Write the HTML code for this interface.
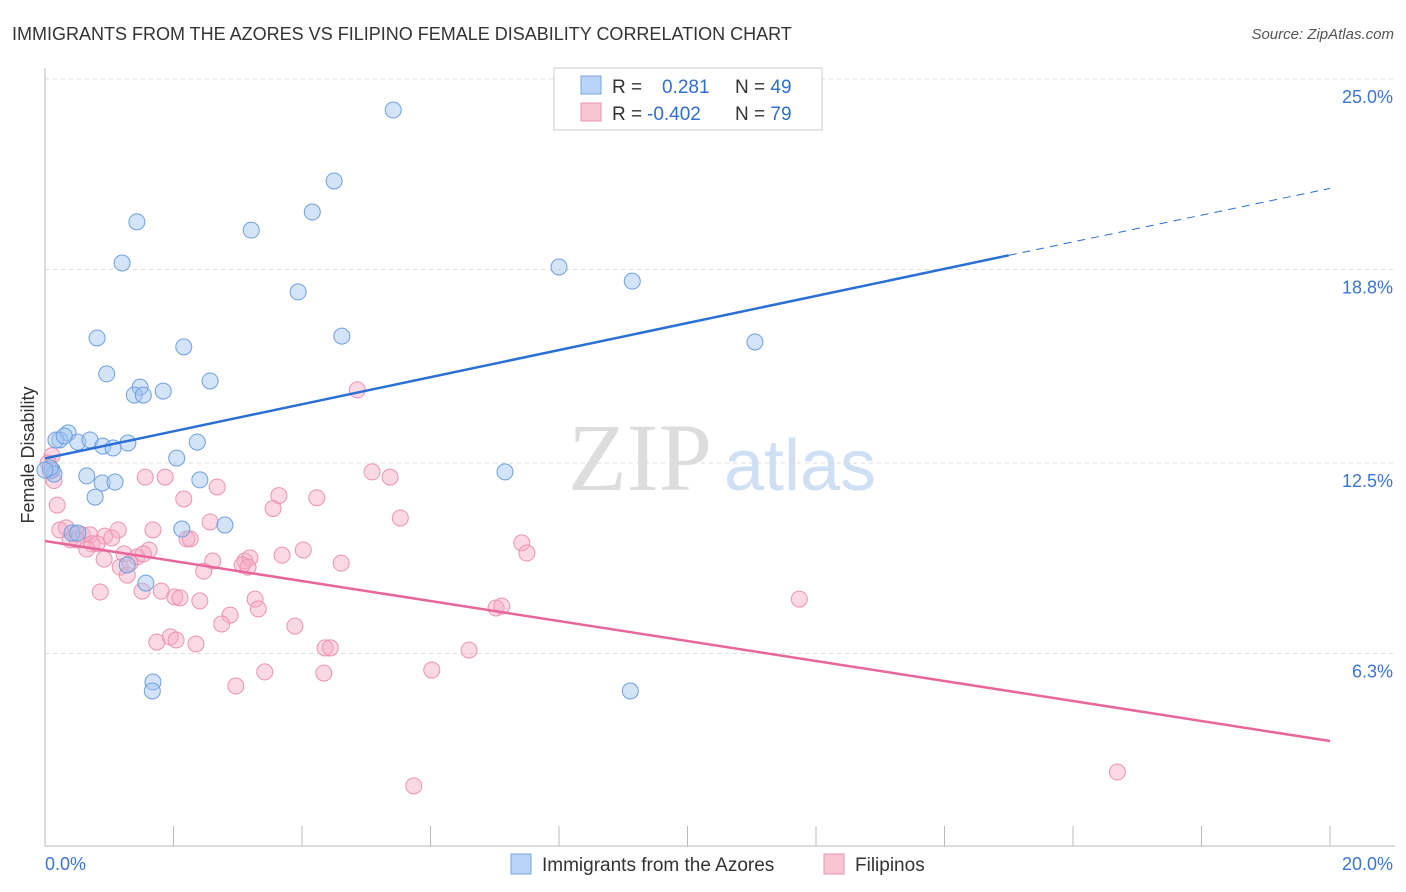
<!DOCTYPE html>
<html><head><meta charset="utf-8"><style>
body{margin:0;background:#fff;font-family:"Liberation Sans",sans-serif;}
#c{position:absolute;left:0;top:0;width:1406px;height:892px;}
</style></head><body>
<svg id="c" width="1406" height="892" xmlns="http://www.w3.org/2000/svg">
<text x="12" y="40" font-size="18" fill="#333">IMMIGRANTS FROM THE AZORES VS FILIPINO FEMALE DISABILITY CORRELATION CHART</text>
<text x="1394" y="39" font-size="15" fill="#555" text-anchor="end" font-style="italic">Source: ZipAtlas.com</text>
<text x="34" y="455" font-size="18" fill="#333" text-anchor="middle" transform="rotate(-90 34 455)">Female Disability</text>
<text x="640" y="490" font-size="96" fill="#ddd" font-family="Liberation Serif,serif" text-anchor="middle">ZIP</text>
<text x="800" y="490" font-size="72" fill="#cfe0f5" text-anchor="middle">atlas</text>
<g id="grid"></g><g id="axes"></g><g id="pts"></g><g id="lines"></g>
<g>
<rect x="554" y="68" width="268" height="62" fill="#fff" stroke="#ccc"/>
<rect x="581" y="76" width="20" height="18" fill="#b8d3f5" stroke="#7aa7e0"/>
<rect x="581" y="103" width="20" height="18" fill="#f9c4d4" stroke="#ec93b0"/>
<text x="612" y="93" font-size="19" fill="#333">R = <tspan fill="#2f6fd1" x="662">0.281</tspan><tspan x="735" fill="#333">N = </tspan><tspan fill="#2f6fd1">49</tspan></text>
<text x="612" y="120" font-size="19" fill="#333">R = <tspan fill="#2f6fd1" x="647">-0.402</tspan><tspan x="735" fill="#333">N = </tspan><tspan fill="#2f6fd1">79</tspan></text>
</g>
<g>
<rect x="511" y="854" width="20" height="20" fill="#b8d3f5" stroke="#7aa7e0"/>
<text x="542" y="871" font-size="19" fill="#333">Immigrants from the Azores</text>
<rect x="824" y="854" width="20" height="20" fill="#f9c4d4" stroke="#ec93b0"/>
<text x="855" y="871" font-size="19" fill="#333">Filipinos</text>
</g>
</svg>
<script>
const yTicks=[25.0,18.8,12.5,6.3];
const yTickLabels=["25.0%","18.8%","12.5%","6.3%"];
const xTickLabels=["0.0%","20.0%"];
const blueX=[5.42,4.5,4.16,1.43,3.21,1.2,8.0,9.14,3.94,0.81,4.62,2.16,11.05,0.96,1.48,1.39,1.53,1.84,2.57,0.36,0.23,0.51,0.7,0.9,1.06,1.29,2.37,2.05,0.11,0.14,0.65,0.89,1.09,2.41,7.16,0.78,2.13,2.8,0.42,0.51,1.28,1.57,1.68,1.67,9.11,0.08,0.17,0.3,0.0];
const blueY=[23.99,21.68,20.67,20.35,20.08,19.01,18.88,18.42,18.07,16.57,16.63,16.28,16.44,15.4,14.97,14.71,14.71,14.84,15.17,13.48,13.25,13.18,13.25,13.05,12.99,13.15,13.18,12.66,12.27,12.14,12.08,11.85,11.88,11.95,12.21,11.39,10.35,10.48,10.22,10.22,9.18,8.59,5.37,5.08,5.08,12.34,13.25,13.38,12.27];
const pinkX=[4.86,5.09,5.37,5.53,4.23,3.64,3.55,2.16,1.56,1.87,2.68,2.57,1.68,1.14,0.33,0.47,0.58,0.7,0.93,1.04,2.21,2.26,7.42,7.5,1.62,0.39,0.5,0.73,0.81,1.23,1.43,0.65,0.92,1.17,1.28,1.32,1.53,2.61,3.11,3.19,3.07,3.16,3.69,4.02,4.61,2.47,0.86,1.51,1.81,2.02,2.1,2.41,3.27,3.32,2.88,2.75,7.02,7.11,11.74,3.89,1.74,1.95,2.04,2.35,4.36,4.44,6.6,6.02,3.42,4.34,2.97,5.74,16.69,0.19,0.14,0.11,0.08,0.23,0.05];
const pinkY=[14.88,12.21,12.04,10.71,11.37,11.44,11.02,11.33,12.04,12.04,11.72,10.58,10.32,10.32,10.39,10.19,10.16,10.16,10.12,10.06,10.03,10.03,9.9,9.57,9.67,10.0,9.99,9.87,9.87,9.54,9.44,9.7,9.37,9.11,8.85,9.24,9.54,9.31,9.31,9.41,9.18,9.11,9.5,9.67,9.24,8.98,8.3,8.33,8.33,8.14,8.11,8.01,8.07,7.75,7.55,7.26,7.78,7.84,8.07,7.19,6.67,6.84,6.74,6.61,6.48,6.48,6.41,5.76,5.7,5.66,5.24,1.99,2.44,11.13,11.93,12.74,12.24,10.32,12.5];
const blueFit=[12.65,19.26,21.44];
const pinkFit=[9.96,3.45];
const NS='http://www.w3.org/2000/svg';
const X=v=>45+v*64.25, Y=v=>847-v*30.72;
function mk(t,a,p){const e=document.createElementNS(NS,t);for(const k in a)e.setAttribute(k,a[k]);p.appendChild(e);return e;}
const grid=document.getElementById('grid'),axes=document.getElementById('axes');
yTicks.forEach((t,i)=>{
 const l=mk('line',{x1:45,x2:1395,y1:Y(t),y2:Y(t),stroke:'#ddd','stroke-dasharray':'4,4'},grid);
 
 
 const tx=mk('text',{x:1393,y:Y(t)+24,'font-size':18,fill:'#3a75d0','text-anchor':'end'},axes);tx.textContent=yTickLabels[i];
 
 
});
mk('line',{x1:45,x2:45,y1:68,y2:846,stroke:'#bbb'},axes);
mk('line',{x1:45,x2:1395,y1:846,y2:846,stroke:'#bbb'},axes);
for(let i=0;i<=10;i++){mk('line',{x1:X(i*2),x2:X(i*2),y1:826,y2:846,stroke:'#bbb'},axes);}
[[0,45,'start'],[20,1393,'end']].forEach((d,i)=>{const t=mk('text',{x:d[1],y:870,'font-size':18,fill:'#3a75d0','text-anchor':d[2]},axes);t.textContent=xTickLabels[i];
 
 });
const pts=document.getElementById('pts');
pinkX.forEach((v,i)=>{const c=mk('circle',{cx:X(v),cy:Y(pinkY[i]),r:8,fill:'rgba(246,170,195,0.45)',stroke:'#ec93b0','stroke-width':1},pts);
 
 });
blueX.forEach((v,i)=>{const c=mk('circle',{cx:X(v),cy:Y(blueY[i]),r:8,fill:'rgba(160,196,240,0.45)',stroke:'#6d9fe0','stroke-width':1},pts);
 
 });
const ln=document.getElementById('lines');
const b1=mk('line',{x1:X(0),y1:Y(blueFit[0]),x2:X(15),y2:Y(blueFit[1]),stroke:'#2a6fd6','stroke-width':2.5},ln);


const b2=mk('line',{x1:X(15),y1:Y(blueFit[1]),x2:X(20),y2:Y(blueFit[2]),stroke:'#2a6fd6','stroke-width':1,'stroke-dasharray':'8,6'},ln);


const p1=mk('line',{x1:X(0),y1:Y(pinkFit[0]),x2:X(20),y2:Y(pinkFit[1]),stroke:'#e8679a','stroke-width':2.5},ln);


</script>
</body></html>
